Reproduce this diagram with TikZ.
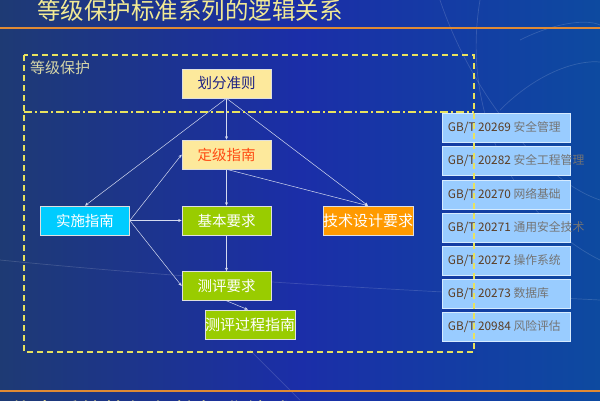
\documentclass[tikz,border=0pt]{standalone}
\usepackage{fontspec}
\setmainfont{Noto Sans CJK SC}
\usetikzlibrary{arrows.meta}
\definecolor{bgleft}{HTML}{1E3A74}
\definecolor{bgmid}{HTML}{1B2EA8}
\definecolor{bgright}{HTML}{0D4AA0}
\definecolor{titlecol}{HTML}{F2EA94}
\definecolor{orangeline}{HTML}{E08A34}
\definecolor{dashcol}{HTML}{E8E25E}
\definecolor{labelcol}{HTML}{D6D6A8}
\definecolor{paleyellow}{HTML}{FDE99C}
\definecolor{navytext}{HTML}{1E2284}
\definecolor{redtext}{HTML}{FF4A12}
\definecolor{cyanfill}{HTML}{00CCFF}
\definecolor{greenfill}{HTML}{99CC00}
\definecolor{orangefill}{HTML}{FF9A00}
\definecolor{gbfill}{HTML}{99CCFF}
\definecolor{gbtext}{HTML}{5A3C22}
\definecolor{gbgray}{HTML}{747474}
\definecolor{linecol}{HTML}{D4DAF0}
\begin{document}
\begin{tikzpicture}[x=1pt,y=-1pt,
  box/.style={draw=white!75!gray, line width=0.6pt, minimum width=89pt, minimum height=29pt, inner sep=0pt, font=\fontsize{14.5}{14.5}\selectfont},
  gbbox/.style={draw=white!60!gbfill, line width=0.6pt, fill=gbfill, minimum width=128pt, minimum height=29pt, inner sep=0pt},
  gbtxt/.style={anchor=west, inner sep=0pt, font=\fontsize{11.8}{11.8}\selectfont, text=gbtext},
  conn/.style={draw=linecol, line width=0.5pt, -{Stealth[length=3.5pt,width=3pt]}},
  deco/.style={draw=white, opacity=0.15, line width=0.7pt}
]
\useasboundingbox (0,0) rectangle (600,400);
% background
\shade[left color=bgleft, right color=bgright, middle color=bgmid] (0,0) rectangle (600,400);
\draw[deco] (480,0) .. controls (460,120) and (520,220) .. (600,260);
\draw[deco] (520,40) .. controls (560,20) and (590,20) .. (600,25);
\draw[deco] (500,110) .. controls (540,70) and (580,60) .. (600,62);
\draw[deco] (440,0) .. controls (470,90) and (540,180) .. (600,200);
\draw[deco] (0,260) .. controls (200,280) and (400,290) .. (600,300);
\draw[deco] (250,350) -- (300,400);
% title and lines
\node[anchor=west, inner sep=0pt, text=titlecol, font=\fontsize{23.5}{23.5}\selectfont] (title) at (37,11) {等级保护标准系列的逻辑关系};
\fill[orangeline] (0,27) rectangle (600,29);
\fill[orangeline] (0,390) rectangle (600,392);
\node[anchor=west, inner sep=0pt, text=titlecol, font=\fontsize{23.5}{23.5}\selectfont] (bottomtitle) at (10,411) {信息系统等级保护标准综述};
% label
\node[anchor=west, inner sep=0pt, text=labelcol, font=\fontsize{15}{15}\selectfont] (lbl) at (30,68) {等级保护};
% boxes
\node[box, fill=paleyellow, text=navytext] (huafen) at (226.5,83.5) {划分准则};
\node[box, fill=paleyellow, text=redtext] (dingji) at (226.5,154.5) {定级指南};
\node[box, fill=cyanfill, text=white] (shishi) at (85,220.5) {实施指南};
\node[box, fill=greenfill, text=white] (jiben) at (226.5,220.5) {基本要求};
\node[box, fill=greenfill, text=white] (ceping) at (226.5,286) {测评要求};
\node[box, fill=greenfill, text=white, font=\fontsize{15}{15}\selectfont] (guocheng) at (250,324.5) {测评过程指南};
\node[box, fill=orangefill, text=white, font=\fontsize{15}{15}\selectfont] (jishu) at (368,220.5) {技术设计要求};
% connectors
\draw[conn] (huafen.south) -- (dingji.north);
\draw[conn] (huafen.south) -- (shishi.north);
\draw[conn] (huafen.south) -- (jishu.north);
\draw[conn] (dingji.south) -- (jiben.north);
\draw[conn] (dingji.south) -- (jishu.north);
\draw[conn] (shishi.east) -- (dingji.west);
\draw[conn] (shishi.east) -- (jiben.west);
\draw[conn] (shishi.east) -- (ceping.west);
\draw[conn] (jiben.south) -- (ceping.north);
\draw[conn] (ceping.south) -- ([xshift=-2pt]guocheng.north);
% GB boxes
\node[gbbox] (g1) at (506,127.5) {};
\node[gbbox] (g2) at (506,161) {};
\node[gbbox] (g3) at (506,194.5) {};
\node[gbbox] (g4) at (506,227.5) {};
\node[gbbox] (g5) at (506,260.5) {};
\node[gbbox] (g6) at (506,293.5) {};
\node[gbbox] (g7) at (506,326.5) {};
\node[gbtxt] (t1) at ([xshift=6pt]g1.west) {GB/T 20269 \textcolor{gbgray}{安全管理}};
\node[gbtxt] (t2) at ([xshift=6pt]g2.west) {GB/T 20282 \textcolor{gbgray}{安全工程管理}};
\node[gbtxt] (t3) at ([xshift=6pt]g3.west) {GB/T 20270 \textcolor{gbgray}{网络基础}};
\node[gbtxt] (t4) at ([xshift=6pt]g4.west) {GB/T 20271 \textcolor{gbgray}{通用安全技术}};
\node[gbtxt] (t5) at ([xshift=6pt]g5.west) {GB/T 20272 \textcolor{gbgray}{操作系统}};
\node[gbtxt] (t6) at ([xshift=6pt]g6.west) {GB/T 20273 \textcolor{gbgray}{数据库}};
\node[gbtxt] (t7) at ([xshift=6pt]g7.west) {GB/T 20984 \textcolor{gbgray}{风险评估}};
% dashed frames
\draw[dashcol, line width=1.2pt, dash pattern=on 6pt off 4pt] (24,55) rectangle (474,352);
\draw[dashcol, line width=1.2pt, dash pattern=on 8pt off 3pt on 2pt off 3pt] (24,112) -- (474,112);
\end{tikzpicture}
\end{document}
